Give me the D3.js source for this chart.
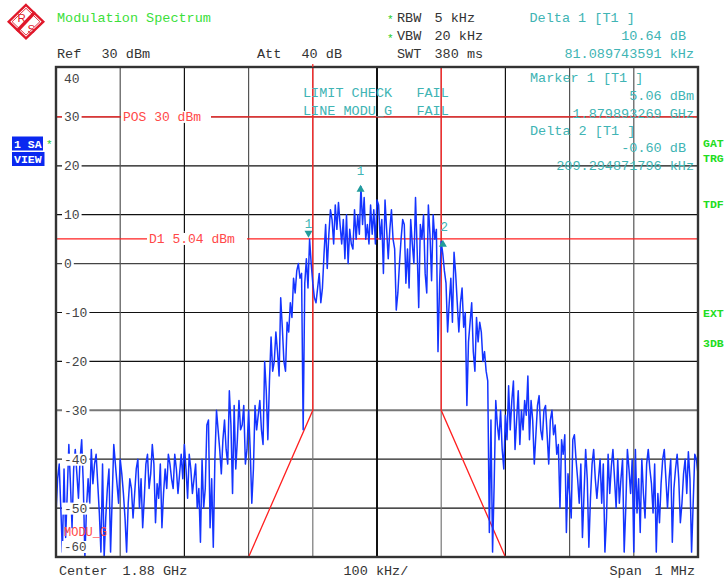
<!DOCTYPE html>
<html><head><meta charset="utf-8">
<script src="https://cdn.jsdelivr.net/npm/d3@7/dist/d3.min.js"></script>
<style>
body{margin:0;background:#fff}
svg text{font-family:"Liberation Mono","DejaVu Sans Mono",monospace;white-space:pre}
</style>
</head><body>
<svg id="c" width="726" height="578"></svg>
<script>
// ---- data ----
const sweepStartKHz = -500;
const sweepStopKHz = 500;
const traceLevels = [
 -51,-44,-41,-50,-59,-42,-56,-47,-37,-45,-54,-42,-38,-43,-48,-40,-36,-45,-60,-50,
 -44,-49,-38,-45,-41,-39,-45,-51,-59,-41,-60,-52,-46,-42,-59,-48,-37,-41,-45,-49,
 -40,-43,-47,-52,-59,-49,-44,-46,-52,-47,-42,-40,-50,-44,-54,-48,-41,-39,-46,-43,
 -37,-41,-53,-45,-48,-41,-54,-47,-42,-46,-39,-41,-44,-46,-39,-42,-47,-43,-39,-44,
 -37,-42,-48,-39,-42,-47,-44,-41,-50,-46,-57,-40,-50,-46,-33,-32,-54,-44,-58,-40,
 -30,-34,-38,-43,-36,-32,-38,-41,-26,-33,-47,-29,-42,-36,-28,-34,-33,-29,-41,-38,
 -30,-38,-49,-42,-29,-34,-31,-28,-34,-37,-20,-26,-36,-24,-15,-22,-20,-14,-18,-23,
 -7,-13,-20,-22,-12,-14,-8,-11,-3,-6,-1.5,0,-3,-2,-34,-4,1,-5,5,0,
 -4,-7,-8,-5,-2,-8,-5,2,8,-1,6,11,9,4,12,7,12.5,8,4,9,
 1,10,0,7,4,3,11,5,10,6,15.7,8,13.5,5,8,4,12,6,11,4,
 13,12,5,9,-2,13,7,1,7,11,5,3,-9.5,-6,0,5,9,8,-4,3,
 -5,9,4,0,13.5,3,-9,8,5,10,-2,-6,12,6,-3.5,10,5,7,-18,-4,
 4.5,2,-1.5,-4,-14,-8,-3,-12,2.3,-2,-8,-14,-8,-5,-13,-10,-29,-16,-12,-8,
 -18,-22,-11,-16,-12,-14,-20,-18,-22,-24,-55,-32,-59,-45,-28,-33,-36,-30,-38,-42,
 -31,-36,-25,-34,-28,-24,-38,-32,-26,-37,-30,-34,-28,-31,-23,-36,-28,-32,-41,-35,
 -29,-27,-34,-36,-30,-29,-35,-41,-32,-30,-35,-33,-39,-37,-50,-36,-39,-35,-55,-43,
 -47,-52,-36,-35,-40,-44,-49,-41,-56,-47,-38,-44,-58,-48,-41,-38,-44,-48,-44,-40,
 -49,-41,-59,-52,-39,-47,-41.5,-38,-44,-50,-40,-49,-44,-40,-59,-50,-38,-42,-47,-40,
 -59,-38,-51,-44,-55,-40,-47,-52,-41,-38,-42,-45,-51,-41,-59,-47,-53,-45,-40,-38,
 -44,-50,-44,-40,-57,-46,-42,-39,-44,-53,-49,-43,-40,-47,-38.5,-44,-59,-49,-39,-40,
 -43
];
const yTickValues = [40,30,20,10,0,-10,-20,-30,-40,-50,-60];
const xGridKHz = [-400,-300,-200,-100,0,100,200,300,400];
const limitKHz = [-200,-100,-100,100,100,200];
const limitDb  = [-60,-30,60,60,-30,-60];
const displayLineDb = 30;
const d1LineDb = 5.04;
const marker1 = {kHz:-106.7, db:5.06};
const delta1 = {kHz:-25.6, db:15.70};
const delta2 = {kHz:102.6, db:4.46};

const svg = d3.select("#c");
const L=56,R=698,T=67,B=557;
const x = d3.scaleLinear().domain([sweepStartKHz,sweepStopKHz]).range([L,R]);
const y = d3.scaleLinear().domain([-60,40]).range([B,68]);
const step = (sweepStopKHz-sweepStartKHz)/(traceLevels.length-1);
const pts = traceLevels.map((v,i)=>[sweepStartKHz+i*step, v]);

svg.append("defs").append("clipPath").attr("id","pc")
  .append("rect").attr("x",L).attr("y",T).attr("width",R-L).attr("height",B-T);

// ---- logo ----
const red="#e0182a";
const lg = svg.append("g").attr("transform","translate(26,21.7)");
lg.append("path").attr("d","M0,-16.7L17.3,0L0,16.7L-17.3,0Z").attr("fill","#fff").attr("stroke",red).attr("stroke-width",2.4);
lg.append("path").attr("d","M0,-13.4L13.9,0L0,13.4L-13.9,0Z").attr("fill","none").attr("stroke",red).attr("stroke-width",0.9);
lg.append("line").attr("x1",9).attr("y1",-9.5).attr("x2",-9).attr("y2",9.5).attr("stroke",red).attr("stroke-width",3.4);
lg.append("text").attr("x",-8.5).attr("y",0.5).attr("font-size",11.5).attr("fill",red).style("font-family","Liberation Sans,sans-serif").text("R");
lg.append("text").attr("x",1.5).attr("y",11).attr("font-size",11.5).attr("fill",red).style("font-family","Liberation Sans,sans-serif").text("S");

// ---- header ----
const hdr = (t,xx,yy,col,anchor)=>svg.append("text").attr("x",xx).attr("y",yy).attr("font-size",13.5)
  .attr("fill",col||"#333").attr("text-anchor",anchor||"start").text(t);
hdr("Modulation Spectrum",57,22,"#3be03b");
hdr("Ref",57,57.5); hdr("30 dBm",101.5,57.5);
hdr("Att",257,57.5); hdr("40 dB",301.5,57.5);
hdr("RBW",397,21.5); hdr("5 kHz",434.5,21.5);
hdr("VBW",397,40); hdr("20 kHz",434.5,40);
hdr("SWT",397,57.5); hdr("380 ms",434.5,57.5);
svg.append("text").attr("x",387).attr("y",23).attr("font-size",11).attr("fill","#22cc22").text("*");
svg.append("text").attr("x",387).attr("y",41.5).attr("font-size",11).attr("fill","#22cc22").text("*");
const teal="#40b4b4";
hdr("Delta 1 [T1 ]",529.5,21.5,teal);
hdr("10.64 dB",686,40,teal,"end");
hdr("81.089743591 kHz",694,57.5,teal,"end");

// ---- side labels ----
svg.append("rect").attr("x",12).attr("y",136.5).attr("width",31).attr("height",14).attr("fill","#0a28f0");
svg.append("rect").attr("x",12).attr("y",152).attr("width",32.5).attr("height",14).attr("fill","#0a28f0");
svg.append("text").attr("x",14).attr("y",147.5).attr("font-size",11.5).attr("font-weight","bold").attr("fill","#fff").text("1 SA");
svg.append("text").attr("x",14).attr("y",163).attr("font-size",11.5).attr("font-weight","bold").attr("fill","#fff").text("VIEW");
svg.append("text").attr("x",46).attr("y",148).attr("font-size",11).attr("fill","#22cc22").text("*");
[["GAT",147],["TRG",162],["TDF",208],["EXT",316.5],["3DB",346.5]].forEach(([t,yy])=>
  svg.append("text").attr("x",703).attr("y",yy).attr("font-size",11.5).attr("font-weight","bold").attr("fill","#22dd22").text(t));

// ---- plot background ----
svg.append("rect").attr("x",L).attr("y",T).attr("width",R-L).attr("height",B-T).attr("fill","#fff");
const plot = svg.append("g").attr("clip-path","url(#pc)");

// grid
const hCol = {30:"#222",20:"#111",10:"#111",0:"#444",[-10]:"#111",[-20]:"#111",[-30]:"#777",[-40]:"#222",[-50]:"#111"};
const hW = {30:1,20:1.2,10:1.2,0:1.2,[-10]:1.2,[-20]:1.4,[-30]:2,[-40]:1.2,[-50]:1.2};
plot.selectAll(".hg").data(yTickValues.filter(v=>v<40&&v>-60)).enter().append("line")
  .attr("x1",L).attr("x2",R).attr("y1",d=>y(d)).attr("y2",d=>y(d))
  .attr("stroke",d=>hCol[d]).attr("stroke-width",d=>hW[d]);
const vCol = {[-400]:"#555",[-300]:"#111",[-200]:"#555",[-100]:"#777",0:"#111",100:"#777",200:"#111",300:"#555",400:"#555"};
plot.selectAll(".vg").data(xGridKHz).enter().append("line")
  .attr("x1",d=>x(d)).attr("x2",d=>x(d)).attr("y1",T).attr("y2",B)
  .attr("stroke",d=>vCol[d]).attr("stroke-width",d=>d===0?2:1.2);

// red reference lines
plot.append("line").attr("x1",L).attr("x2",R).attr("y1",y(displayLineDb)).attr("y2",y(displayLineDb)).attr("stroke","#ff2020").attr("stroke-width",1.2);
plot.append("line").attr("x1",L).attr("x2",R).attr("y1",y(d1LineDb)).attr("y2",y(d1LineDb)).attr("stroke","#ff2020").attr("stroke-width",1.2);
svg.append("rect").attr("x",121).attr("y",y(displayLineDb)-6).attr("width",90).attr("height",12).attr("fill","#fff");
svg.append("rect").attr("x",147).attr("y",y(d1LineDb)-6).attr("width",100).attr("height",12).attr("fill","#fff");
svg.append("text").attr("x",123).attr("y",y(displayLineDb)+4.5).attr("font-size",13).attr("fill","#ff4848").text("POS 30 dBm");
svg.append("text").attr("x",149).attr("y",y(d1LineDb)+4.5).attr("font-size",13).attr("fill","#ff4848").text("D1 5.04 dBm");

// limit line
const limLine = d3.line().x(d=>x(d[0])).y(d=>y(d[1]));
plot.append("path").datum(limitKHz.map((k,i)=>[k,limitDb[i]])).attr("d",limLine)
  .attr("fill","none").attr("stroke","#ff2020").attr("stroke-width",1.3);

// trace
plot.append("path").datum(pts).attr("d",d3.line().x(d=>x(d[0])).y(d=>y(d[1])))
  .attr("fill","none").attr("stroke","#1434ff").attr("stroke-width",1.5).attr("stroke-linejoin","round");

// y tick labels
const lblY = v => v===40 ? 82.5 : (v===-60 ? 551 : y(v)+4.5);
svg.selectAll(".ylb").data(yTickValues).enter().append("rect")
  .attr("x",62).attr("y",d=>lblY(d)-10).attr("width",d=>String(d).length*7.8+4).attr("height",12)
  .attr("fill","#fff");
svg.selectAll(".ylt").data(yTickValues).enter().append("text")
  .attr("x",64).attr("y",d=>lblY(d)).attr("font-size",d=>d===-60?12.5:13).attr("fill","#444").text(d=>String(d));
svg.append("text").attr("x",64).attr("y",536).attr("font-size",12).attr("fill","#ff4848").text("MODU_G");

// limit check text
svg.append("text").attr("x",303).attr("y",96.5).attr("font-size",13.5).attr("fill",teal).text("LIMIT CHECK   FAIL");
svg.append("text").attr("x",303).attr("y",114.5).attr("font-size",13.5).attr("fill",teal).text("LINE MODU_G   FAIL");
// marker info
svg.append("text").attr("x",530).attr("y",82).attr("font-size",13.5).attr("fill",teal).text("Marker 1 [T1 ]");
svg.append("text").attr("x",694).attr("y",99.5).attr("font-size",13.5).attr("fill",teal).attr("text-anchor","end").text("5.06 dBm");
svg.append("text").attr("x",694).attr("y",117.5).attr("font-size",13.5).attr("fill",teal).attr("text-anchor","end").text("1.879893269 GHz");
svg.append("text").attr("x",530).attr("y",134.5).attr("font-size",13.5).attr("fill",teal).text("Delta 2 [T1 ]");
svg.append("text").attr("x",686).attr("y",152).attr("font-size",13.5).attr("fill",teal).attr("text-anchor","end").text("-0.60 dB");
svg.append("text").attr("x",694).attr("y",169.5).attr("font-size",13.5).attr("fill",teal).attr("text-anchor","end").text("209.294871796 kHz");

// markers
const mk = svg.append("g");
const m1x=x(marker1.kHz), m1y=y(marker1.db);
mk.append("path").attr("d",`M${m1x-4},${m1y-8}L${m1x+4},${m1y-8}L${m1x},${m1y-1}Z`).attr("fill","#229c9c");
mk.append("text").attr("x",m1x).attr("y",m1y-11).attr("font-size",12.5).attr("fill",teal).attr("text-anchor","middle").text("1");
const d1x=x(delta1.kHz), d1y=y(delta1.db);
mk.append("path").attr("d",`M${d1x},${d1y-2}L${d1x+4},${d1y+5}L${d1x-4},${d1y+5}Z`).attr("fill","#229c9c");
mk.append("text").attr("x",d1x).attr("y",d1y-12).attr("font-size",12.5).attr("fill",teal).attr("text-anchor","middle").text("1");
const d2x=x(delta2.kHz), d2y=y(delta2.db);
mk.append("path").attr("d",`M${d2x},${d2y-2}L${d2x+4},${d2y+5}L${d2x-4},${d2y+5}Z`).attr("fill","#229c9c");
mk.append("text").attr("x",d2x+1.5).attr("y",d2y-11).attr("font-size",12.5).attr("fill",teal).attr("text-anchor","middle").text("2");

// frame
svg.append("rect").attr("x",L).attr("y",T).attr("width",R-L).attr("height",B-T)
  .attr("fill","none").attr("stroke","#333").attr("stroke-width",2.4);
svg.append("line").attr("x1",x(-100)).attr("x2",x(-100)).attr("y1",T-3).attr("y2",T).attr("stroke","#ff2020").attr("stroke-width",1.2);

// bottom text
hdr("Center",59,575); hdr("1.88 GHz",122.5,575);
hdr("100 kHz/",343.5,575);
hdr("Span",609.5,575); hdr("1 MHz",654.5,575);
</script>
</body></html>
